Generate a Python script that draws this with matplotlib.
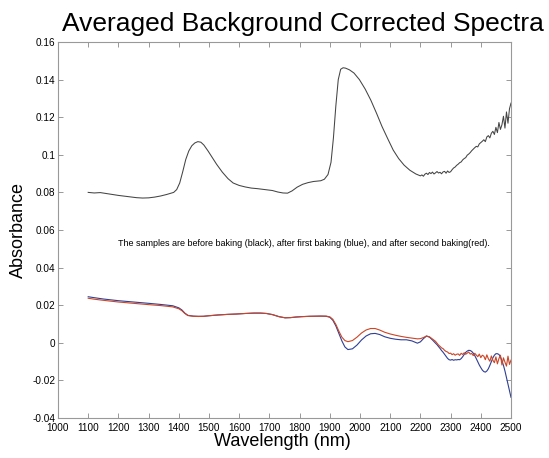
import numpy as np
import matplotlib
matplotlib.use("Agg")
import matplotlib.pyplot as plt

plt.rcParams['font.family'] = ['Liberation Sans', 'DejaVu Sans']

# black: before baking
black_wl = [1100, 1120, 1140, 1160, 1180, 1200, 1220, 1240, 1260, 1280,
            1300, 1320, 1340, 1360, 1383, 1393, 1403, 1413, 1423, 1433,
            1443, 1453, 1463, 1473, 1483, 1497, 1511, 1525, 1544, 1563,
            1580, 1600, 1620, 1640, 1660, 1680, 1710, 1728, 1745, 1760,
            1775, 1792, 1810, 1828, 1846, 1870, 1882, 1894, 1904, 1912,
            1920, 1928, 1936, 1944, 1952, 1965, 1980, 1998, 2017, 2036,
            2055, 2073, 2092, 2110, 2128, 2146, 2165, 2185, 2200] + list(range(2205, 2501, 5))
black_abs = [.0800, .0797, .0799, .0794, .0789, .0784, .0780, .0776, .0772, .0770,
             .0771, .0775, .0781, .0789, .0800, .0815, .0850, .0910, .0975, .1020,
             .1048, .1063, .1070, .1067, .1052, .1020, .0985, .0950, .0908, .0873,
             .0850, .0837, .0829, .0823, .0820, .0816, .0810, .0802, .0797, .0796,
             .0808, .0828, .0843, .0852, .0858, .0862, .0870, .0895, .0960, .1090,
             .1260, .1400, .1455, .1463, .1461, .1452, .1435, .1400, .1350, .1290,
             .1220, .1150, .1085, .1025, .0980, .0945, .0918, .0898, .0888,
             .0893, .0886, .0897, .0902, .0895, .0906, .0900, .0908, .0898, .0904,
             .0911, .0903, .0907, .0899, .0909, .0912, .0902, .0914, .0906, .0910,
             .0921, .0930, .0935, .0944, .0950, .0958, .0962, .0973, .0980, .0985,
             .0998, .1004, .1012, .1022, .1030, .1038, .1045, .1042, .1058, .1065,
             .1072, .1080, .1070, .1095, .1102, .1090, .1115, .1125, .1108, .1146,
             .1118, .1172, .1135, .1160, .1205, .1142, .1228, .1168, .1245, .1275]

# blue (after first baking) and red (after second baking)
rb_wl = [1100, 1120, 1150, 1200, 1250, 1300, 1340, 1380, 1400, 1410,
         1420, 1430, 1448, 1465, 1482, 1500, 1530, 1560, 1590, 1620,
         1650, 1670, 1690, 1710, 1732, 1752, 1770, 1788, 1806, 1834,
         1870, 1888, 1900, 1910, 1920, 1930, 1940, 1950, 1960, 1975,
         1990, 2005, 2020, 2035, 2050, 2065, 2082, 2100, 2118, 2136,
         2154, 2172, 2190, 2200, 2210, 2220, 2230, 2240, 2250] + list(range(2255, 2501, 5))
blue_abs = [.0245, .0240, .0233, .0224, .0217, .0210, .0204, .0197, .0186, .0175,
            .0158, .0146, .0142, .0141, .0141, .0144, .0148, .0151, .0153, .0156,
            .0158, .0158, .0156, .0150, .0139, .0133, .0134, .0137, .0139, .0141,
            .0142, .0141, .0136, .0120, .0090, .0050, .0010, -.0022, -.0036, -.0032,
            -.0012, .0015, .0036, .0048, .0050, .0044, .0032, .0024, .0019, .0016,
            .0016, .0010, -.0002, .0005, .0022, .0036, .0030, .0015, -.0002,
            -.0010, -.0020, -.0030, -.0041, -.0050, -.0061, -.0072, -.0083, -.0090, -.0092,
            -.0089, -.0093, -.0090, -.0091, -.0089, -.0090, -.0084, -.0074, -.0062, -.0051,
            -.0044, -.0040, -.0041, -.0046, -.0055, -.0068, -.0084, -.0101, -.0118, -.0132,
            -.0145, -.0153, -.0156, -.0150, -.0138, -.0120, -.0100, -.0080, -.0066, -.0058,
            -.0058, -.0062, -.0075, -.0095, -.0120, -.0150, -.0185, -.0220, -.0255, -.0290]
red_abs = [.0237, .0232, .0226, .0217, .0210, .0203, .0198, .0191, .0181, .0171,
           .0156, .0145, .0141, .0140, .0141, .0144, .0148, .0151, .0153, .0156,
           .0158, .0158, .0156, .0150, .0139, .0133, .0134, .0137, .0139, .0141,
           .0142, .0142, .0138, .0125, .0098, .0062, .0030, .0012, .0006, .0012,
           .0030, .0052, .0068, .0076, .0076, .0068, .0056, .0047, .0040, .0034,
           .0029, .0025, .0021, .0022, .0028, .0036, .0032, .0020, .0008,
           -.0002, -.0012, -.0019, -.0027, -.0031, -.0040, -.0046, -.0049, -.0057, -.0055,
           -.0063, -.0058, -.0066, -.0061, -.0059, -.0067, -.0056, -.0062, -.0053, -.0061,
           -.0055, -.0049, -.0060, -.0057, -.0068, -.0056, -.0065, -.0074, -.0060, -.0079,
           -.0066, -.0071, -.0090, -.0064, -.0085, -.0098, -.0070, -.0093, -.0106, -.0075,
           -.0112, -.0084, -.0066, -.0118, -.0080, -.0103, -.0124, -.0071, -.0115, -.0092]

x_ticks = list(range(1000, 2501, 100))
y_ticks = [-0.04, -0.02, 0, 0.02, 0.04, 0.06, 0.08, 0.1, 0.12, 0.14, 0.16]
y_labels = ['-0.04', '-0.02', '0', '0.02', '0.04', '0.06', '0.08', '0.1', '0.12', '0.14', '0.16']

note = ("The samples are before baking (black), after first baking (blue), "
        "and after second baking(red).")

fig = plt.figure(figsize=(5.49, 4.58), dpi=100)
ax = fig.add_axes([58 / 549, 40 / 458, 453 / 549, 376 / 458])

ax.plot(black_wl, black_abs, color='#444444', lw=0.75)
ax.plot(rb_wl, blue_abs, color='#2e3f95', lw=0.8)
ax.plot(rb_wl, red_abs, color='#cc4526', lw=0.8)

ax.set_xlim(1000, 2500)
ax.set_ylim(-0.04, 0.16)
ax.set_xticks(x_ticks)
ax.set_xticklabels([str(t) for t in x_ticks])
ax.set_yticks(y_ticks)
ax.set_yticklabels(y_labels)
ax.tick_params(direction='in', length=3.5, width=0.6, color='#888888',
               labelsize=7.2, top=True, right=True)
ax.tick_params(axis='x', pad=3.5)
ax.tick_params(axis='y', pad=2)
for s in ax.spines.values():
    s.set_color('#999999')
    s.set_linewidth(0.8)

ax.text(1815, 0.053, note, fontsize=6.5, ha='center', va='center')

fig.text(303 / 549, 1 - 24 / 458, 'Averaged Background Corrected Spectra',
         fontsize=19, ha='center', va='center')
fig.text(282 / 549, 1 - 442 / 458, 'Wavelength (nm)', fontsize=13,
         ha='center', va='center')
fig.text(18 / 549, 1 - 230 / 458, 'Absorbance', fontsize=13, rotation=90,
         ha='center', va='center')

fig.savefig('out.png', dpi=100)
